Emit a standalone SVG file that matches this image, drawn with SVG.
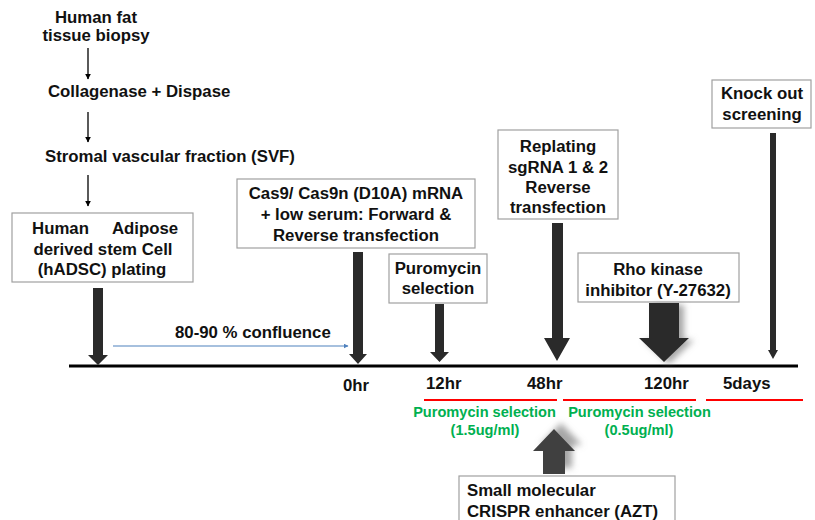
<svg xmlns="http://www.w3.org/2000/svg" width="815" height="520" viewBox="0 0 815 520">
<style>
text{font-family:"Liberation Sans",Arial,sans-serif;font-weight:bold;font-size:16.8px;fill:#111}
.c{text-anchor:middle}
.g{fill:#00b050;font-size:14.6px;text-anchor:middle}
.box{fill:#fff;stroke:#a0a0a0;stroke-width:1.2}
.thick{fill:#2a2a2a}
.thin{stroke:#000;stroke-width:1.3;fill:none}
.red{stroke:#ff0000;stroke-width:2.2}
</style>
<defs>
<marker id="ah" viewBox="0 0 10 10" refX="9" refY="5" markerWidth="6" markerHeight="6" orient="auto" markerUnits="userSpaceOnUse">
<path d="M0,0 L10,5 L0,10 z" fill="#000"/>
</marker>
<marker id="ahb" viewBox="0 0 10 10" refX="9" refY="5" markerWidth="5" markerHeight="5" orient="auto" markerUnits="userSpaceOnUse">
<path d="M0,0 L10,5 L0,10 z" fill="#4f81bd"/>
</marker>
<filter id="sh1" x="-50%" y="-50%" width="200%" height="200%">
<feDropShadow dx="5" dy="2" stdDeviation="3" flood-color="#808080" flood-opacity="0.7"/>
</filter>
<filter id="sh2" x="-50%" y="-50%" width="200%" height="200%">
<feDropShadow dx="7" dy="-6" stdDeviation="3" flood-color="#808080" flood-opacity="0.7"/>
</filter>
</defs>

<g id="step-biopsy">
<text class="c" x="96" y="23">Human fat</text>
<text class="c" x="96" y="41">tissue biopsy</text>
</g>
<g id="step-collagenase">
<text x="48" y="97">Collagenase + Dispase</text>
</g>
<g id="step-svf">
<text x="45" y="162">Stromal vascular fraction (SVF)</text>
</g>

<g id="node-hadsc">
<rect class="box" x="12" y="213" width="181" height="69"/>
<text class="c" x="104" y="234"><tspan x="60.5">Human</tspan><tspan x="145">Adipose</tspan></text>
<text class="c" x="103" y="255">derived stem Cell</text>
<text class="c" x="102" y="275">(hADSC) plating</text>
</g>

<g id="node-cas9">
<rect class="box" x="237" y="179" width="238" height="69"/>
<text class="c" x="356" y="199">Cas9/ Cas9n (D10A) mRNA</text>
<text class="c" x="356" y="220">+ low serum: Forward  &amp;</text>
<text class="c" x="356" y="241">Reverse transfection</text>
</g>

<g id="node-puromycin">
<rect class="box" x="389" y="254" width="98" height="49"/>
<text class="c" x="438" y="274">Puromycin</text>
<text class="c" x="438" y="294">selection</text>
</g>

<g id="node-replating">
<rect class="box" x="498" y="130" width="120" height="89"/>
<text class="c" x="558" y="152">Replating</text>
<text class="c" x="558" y="173">sgRNA 1 &amp; 2</text>
<text class="c" x="558" y="193">Reverse</text>
<text class="c" x="558" y="213">transfection</text>
</g>

<g id="node-rho">
<rect class="box" x="578" y="253" width="161" height="49"/>
<text class="c" x="658" y="275">Rho kinase</text>
<text class="c" x="658" y="296">inhibitor (Y-27632)</text>
</g>

<g id="node-knockout">
<rect class="box" x="712" y="80" width="99" height="48"/>
<text class="c" x="762" y="99">Knock out</text>
<text class="c" x="762" y="120">screening</text>
</g>

<g id="node-azt">
<rect class="box" x="459" y="476" width="216" height="50"/>
<text x="467" y="496">Small molecular</text>
<text x="467" y="517">CRISPR enhancer (AZT)</text>
</g>

<g id="timeline">
<line x1="69" y1="366" x2="798" y2="366" stroke="#000" stroke-width="3"/>
<text x="343" y="391">0hr</text>
<text x="426" y="389">12hr</text>
<text x="527" y="389">48hr</text>
<text x="644" y="389">120hr</text>
<text x="723" y="389">5days</text>
<line class="red" x1="424" y1="400" x2="557" y2="400"/>
<line class="red" x1="563" y1="400" x2="696" y2="400"/>
<line class="red" x1="706" y1="400" x2="803" y2="400"/>
<text class="g" x="484.5" y="417">Puromycin selection</text>
<text class="g" x="485" y="435">(1.5ug/ml)</text>
<text class="g" x="639.5" y="417">Puromycin selection</text>
<text class="g" x="639" y="435">(0.5ug/ml)</text>
<text x="175" y="338">80-90 % confluence</text>
</g>

<g id="connectors">
<line class="thin" x1="88" y1="48" x2="88" y2="79" marker-end="url(#ah)"/>
<line class="thin" x1="88" y1="112" x2="88" y2="142" marker-end="url(#ah)"/>
<line class="thin" x1="88" y1="175" x2="88" y2="206" marker-end="url(#ah)"/>
<line x1="113" y1="346" x2="348" y2="346" stroke="#4f81bd" stroke-width="1.2" marker-end="url(#ahb)"/>
<polygon class="thick" points="93,288 103,288 103,355 108,355 98,365 88,355 93,355"/>
<polygon class="thick" points="353,252 363,252 363,354 367,354 358,364 349,354 353,354"/>
<polygon class="thick" points="435,304 444,304 444,352 449,352 439.5,362 430,352 435,352"/>
<polygon class="thick" points="552,223 563,223 563,338 570,338 557,361 544,338 552,338"/>
<polygon class="thick" filter="url(#sh1)" points="649,303 679,303 679,338 689,338 664,362 639,338 649,338"/>
<polygon class="thick" points="770,133 776,133 776,350 778,350 773,359 768,350 770,350"/>
<polygon fill="#404040" filter="url(#sh2)" points="554,429 575,451 565,451 565,474 543,474 543,451 533,451"/>
</g>
</svg>
